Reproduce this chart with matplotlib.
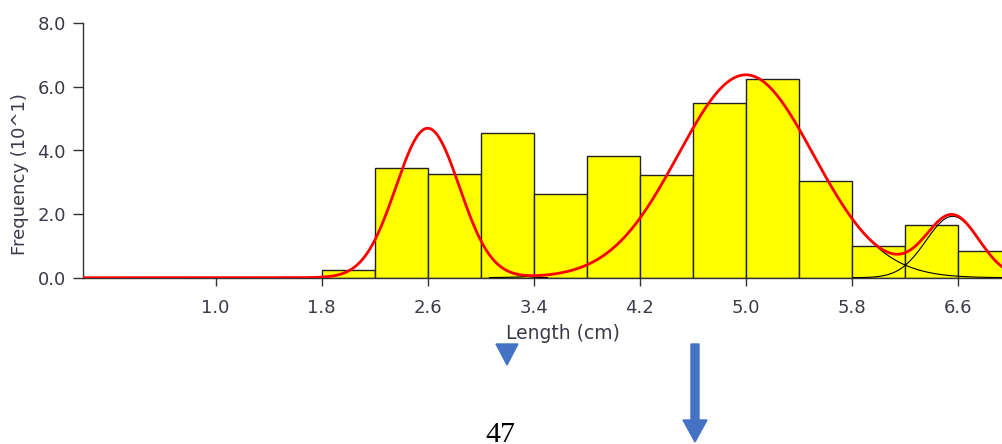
import numpy as np
import matplotlib
matplotlib.use('Agg')
import matplotlib.pyplot as plt
from matplotlib.patches import Polygon, FancyArrow

# Histograma de comprimentos (classes de 0.4 cm)
bin_left = [1.8, 2.2, 2.6, 3.0, 3.4, 3.8, 4.2, 4.6, 5.0, 5.4, 5.8, 6.2, 6.6]
freq = [0.23, 3.45, 3.26, 4.54, 2.62, 3.82, 3.24, 5.49, 6.26, 3.05, 1.01, 1.65, 0.83]
bin_width = 0.4

# Componentes normais (media, desvio, altura)
comp_mean = [2.60, 5.00, 6.56]
comp_sd = [0.24, 0.51, 0.20]
comp_height = [4.70, 6.38, 1.93]

xticks = [1.0, 1.8, 2.6, 3.4, 4.2, 5.0, 5.8, 6.6]
yticks = [0.0, 2.0, 4.0, 6.0, 8.0]

W, H = 1003, 444
y0, y8 = 277.7, 23.3
fig = plt.figure(figsize=(W / 100, H / 100), dpi=100)
ax = fig.add_axes([83 / W, 1 - y0 / H, 1 - 83 / W, (y0 - y8) / H])

ax.bar(bin_left, freq, width=bin_width, align='edge', color='#ffff00',
       edgecolor='#222222', linewidth=1.0, zorder=2)

x = np.linspace(0, 6.94, 700)
total = np.zeros_like(x)
for m, s, h in zip(comp_mean, comp_sd, comp_height):
    y = h * np.exp(-0.5 * ((x - m) / s) ** 2)
    total += y
    sel = (x > m - 3.8 * s) & (x < m + 3.8 * s)
    ax.plot(x[sel], y[sel], color='black', lw=0.8, zorder=3)
ax.plot(x, total, color='#ff0000', lw=2.0, zorder=4, solid_capstyle='butt')

ax.set_xlim(0, 6.94)
ax.set_ylim(0, 8)
ax.set_xticks(xticks)
ax.set_xticklabels(['%.1f' % v for v in xticks])
ax.set_yticks(yticks)
ax.set_yticklabels(['%.1f' % v for v in yticks])
ax.spines['top'].set_visible(False)
ax.spines['right'].set_visible(False)
for sp in ['left', 'bottom']:
    ax.spines[sp].set_color('#333333')
    ax.spines[sp].set_linewidth(1.0)
txtc = '#3a3a48'
ax.tick_params(axis='x', length=6, width=1.0, color='#333333', labelcolor=txtc,
               labelsize=13, pad=9)
ax.tick_params(axis='y', length=7.5, width=1.0, color='#333333', labelcolor=txtc,
               labelsize=13, pad=5)
ax.set_ylabel('Frequency (10^1)', fontsize=13, color=txtc)
ax.set_xlabel('Length (cm)', fontsize=13.5, color=txtc)
ax.xaxis.set_label_coords((563 - 83) / (W - 83), -(333 - y0) / (y0 - y8))
ax.yaxis.set_label_coords((20 - 83) / (W - 83), (y0 - 174) / (y0 - y8))
ax.xaxis.label.set_va('center')
ax.yaxis.label.set_va('center')

# Marcas do documento abaixo do grafico (coordenadas em pixels)
ov = fig.add_axes([0, 0, 1, 1], zorder=5)
ov.set_xlim(0, W)
ov.set_ylim(H, 0)
ov.axis('off')
ov.patch.set_alpha(0)
ov.add_patch(Polygon([[496, 344], [518, 344], [507, 365]], closed=True,
                     color='#4472c4'))
ov.add_patch(FancyArrow(695, 344, 0, 98, width=8, head_width=24,
                        head_length=22, length_includes_head=True,
                        color='#4472c4'))
ov.text(500, 442, '47', family='Liberation Serif', fontsize=21.5,
        ha='center', va='baseline', color='black')

fig.savefig('out.png', dpi=100)
